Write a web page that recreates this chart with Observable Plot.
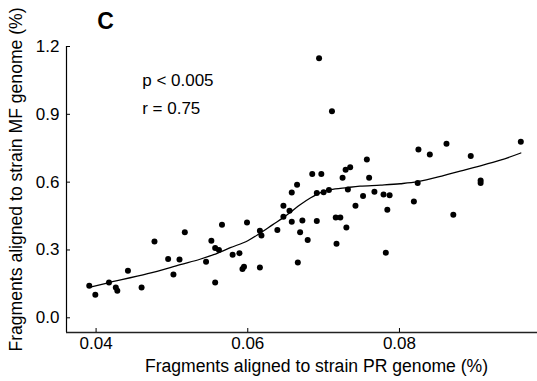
<!DOCTYPE html>
<html>
<head>
<meta charset="utf-8">
<script src="https://cdn.jsdelivr.net/npm/d3@7"></script>
<script src="https://cdn.jsdelivr.net/npm/@observablehq/plot@0.6"></script>
<style>
  html, body { margin: 0; padding: 0; background: #fff; }
  #chart svg { display: block; overflow: visible; }
</style>
</head>
<body>
<div id="chart"></div>
<script>
// Fragments aligned to strain PR genome (%) — x values of the samples
const prX = [
  0.0391, 0.0399, 0.0417, 0.0426, 0.0428, 0.0442, 0.0460, 0.0477, 0.0495, 0.0502,
  0.0510, 0.0517, 0.0545, 0.0552, 0.0557, 0.0562, 0.0557, 0.0566, 0.0580, 0.0589,
  0.0595, 0.0593, 0.0599, 0.0616, 0.0618, 0.0616, 0.0639, 0.0647, 0.0655, 0.0647,
  0.0658, 0.0665, 0.0658, 0.0672, 0.0669, 0.0679, 0.0666, 0.0685, 0.0697, 0.0691,
  0.0691, 0.0700, 0.0707, 0.0694, 0.0711, 0.0716, 0.0722, 0.0717, 0.0730, 0.0725,
  0.0729, 0.0735, 0.0732, 0.0742, 0.0752, 0.0757, 0.0760, 0.0767, 0.0779, 0.0787,
  0.0784, 0.0782, 0.0819, 0.0824, 0.0825, 0.0840, 0.0862, 0.0871, 0.0894, 0.0907,
  0.0907, 0.0960
];
// Fragments aligned to strain MF genome (%) — y values of the samples
const mfY = [
  0.142, 0.102, 0.156, 0.134, 0.120, 0.208, 0.134, 0.337, 0.260, 0.192,
  0.258, 0.378, 0.248, 0.341, 0.309, 0.300, 0.156, 0.412, 0.279, 0.286,
  0.226, 0.216, 0.422, 0.385, 0.364, 0.223, 0.388, 0.496, 0.474, 0.447,
  0.554, 0.589, 0.425, 0.430, 0.378, 0.344, 0.245, 0.636, 0.636, 0.552,
  0.428, 0.555, 0.565, 1.148, 0.914, 0.444, 0.444, 0.328, 0.399, 0.619,
  0.655, 0.666, 0.567, 0.496, 0.539, 0.700, 0.620, 0.558, 0.545, 0.542,
  0.478, 0.288, 0.514, 0.596, 0.744, 0.722, 0.770, 0.456, 0.716, 0.607,
  0.596, 0.779
];
// Smoothed fit line
const fitX = [0.0391, 0.0416, 0.0468, 0.0511, 0.0537, 0.0555, 0.0577, 0.0600, 0.0617, 0.0633,
  0.0647, 0.0659, 0.0669, 0.0683, 0.0696, 0.0709, 0.0731, 0.0748, 0.0775, 0.0801,
  0.0824, 0.0858, 0.0880, 0.0903, 0.0933, 0.0960];
const fitY = [0.135, 0.155, 0.195, 0.235, 0.259, 0.279, 0.310, 0.341, 0.376, 0.412,
  0.443, 0.474, 0.500, 0.531, 0.554, 0.567, 0.576, 0.582, 0.587, 0.593,
  0.602, 0.629, 0.649, 0.669, 0.697, 0.729];

const xTicks = [0.04, 0.06, 0.08];
const yTicks = [0.0, 0.3, 0.6, 0.9, 1.2];
const xTitle = "Fragments aligned to strain PR genome (%)";
const yTitle = "Fragments aligned to strain MF genome (%)";
const panelLabel = "C";
const statLines = ["p < 0.005", "r = 0.75"];
const xDomain = [0.0361, 0.0982];
const yDomain = [-0.065, 1.2];

const points = prX.map((x, i) => ({x, y: mfY[i]}));
const fit = fitX.map((x, i) => ({x, y: fitY[i]}));

const FONT = "'Liberation Sans', Arial, Helvetica, sans-serif";

const chart = Plot.plot({
  width: 537,
  height: 381,
  marginLeft: 66,
  marginRight: 0,
  marginTop: 46,
  marginBottom: 49,
  style: {fontFamily: FONT, fontSize: "17px", color: "#000", background: "#fff"},
  x: {domain: xDomain},
  y: {domain: yDomain},
  marks: [
    Plot.ruleX([xDomain[0]], {stroke: "#000", strokeWidth: 1.2}),
    Plot.ruleY([yDomain[0]], {stroke: "#222", strokeWidth: 1.6}),
    Plot.axisX({ticks: xTicks, tickSize: -4, tickPadding: 8, tickFormat: d3.format(".2f"), label: null, stroke: "#000"}),
    Plot.axisY({ticks: yTicks, tickSize: -4, tickPadding: 11, tickFormat: d3.format(".1f"), label: null, stroke: "#000"}),
    Plot.line(fit, {x: "x", y: "y", stroke: "#000", strokeWidth: 1.3, curve: "catmull-rom"}),
    Plot.dot(points, {x: "x", y: "y", r: 3, fill: "#000"}),
    Plot.text([xTitle], {frameAnchor: "bottom", text: d => d, dx: 14.5, dy: 33.6, lineAnchor: "middle", textAnchor: "middle", fontSize: 17.6}),
    Plot.text([yTitle], {frameAnchor: "left", text: d => d, rotate: -90, dx: -50.4, dy: -10, lineAnchor: "middle", textAnchor: "middle", fontSize: 17.6}),
    Plot.text([panelLabel], {frameAnchor: "top-left", text: d => d, dx: 39, dy: -25, lineAnchor: "middle", textAnchor: "middle", fontSize: 23, fontWeight: "bold"}),
    Plot.text([statLines[0]], {frameAnchor: "top-left", text: d => d, dx: 75.7, dy: 34.3, lineAnchor: "middle", textAnchor: "start", fontSize: 17}),
    Plot.text([statLines[1]], {frameAnchor: "top-left", text: d => d, dx: 75.7, dy: 61.9, lineAnchor: "middle", textAnchor: "start", fontSize: 17})
  ]
});
document.getElementById("chart").appendChild(chart);
</script>
</body>
</html>
